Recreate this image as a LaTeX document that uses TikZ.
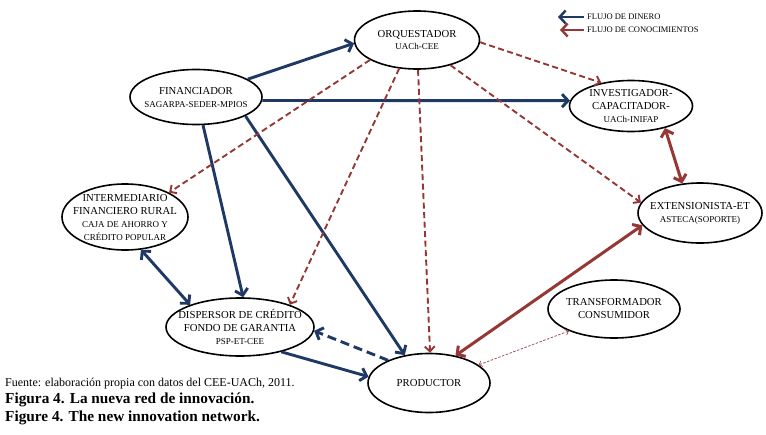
\documentclass[tikz,border=0pt]{standalone}
\usepackage{fontspec}
\setmainfont{Liberation Serif}
\usetikzlibrary{shapes.geometric,arrows.meta}

\definecolor{dinero}{HTML}{1F3864}
\definecolor{saber}{HTML}{953735}
\definecolor{sabertenue}{HTML}{A0525A}

\newcommand{\linea}[1]{{\fontsize{9}{11}\selectfont #1}}

\begin{document}
\begin{tikzpicture}[x=1pt,y=-1pt,
		actor/.style={ellipse,draw,line width=1.6pt,align=center,inner xsep=-25pt,inner ysep=-12pt,font=\fontsize{10.7}{13}\selectfont},
		money/.style={draw=dinero,line width=2.9pt,-{Straight Barb[length=6pt,width=13pt]}},
		moneyback/.style={money,dash pattern=on 9pt off 5pt},
		moneyboth/.style={money,{Straight Barb[length=6pt,width=13pt]}-{Straight Barb[length=6pt,width=13pt]}},
		know/.style={draw=saber,line width=1.9pt,dash pattern=on 6pt off 3.5pt,-{Straight Barb[length=5pt,width=10pt]}},
		knowsolid/.style={draw=saber,line width=3pt,-{Straight Barb[length=6pt,width=13pt]}},
		knowboth/.style={knowsolid,{Straight Barb[length=6pt,width=13pt]}-{Straight Barb[length=6pt,width=13pt]}},
		knowthin/.style={draw=sabertenue,line width=0.8pt,dash pattern=on 2.5pt off 1.5pt,{Straight Barb[length=3pt,width=6pt]}-{Straight Barb[length=3pt,width=6pt]}},
		tag/.style={font=\fontsize{8.5}{10}\selectfont,anchor=west,inner sep=0pt},
		caption/.style={anchor=base west,inner sep=0pt}
	]
	\useasboundingbox (0,0) rectangle (766,434);

	% actores de la red
	\node[actor,minimum width=125pt,minimum height=58pt] (orq) at (417,40) {ORQUESTADOR\\\linea{UACh-CEE}};
	\node[actor,minimum width=132pt,minimum height=55pt] (fin) at (196,97) {FINANCIADOR\\\linea{SAGARPA-SEDER-MPIOS}};
	\node[actor,minimum width=123pt,minimum height=51pt] (inv) at (631,106) {INVESTIGADOR-\\CAPACITADOR-\\\linea{UACh-INIFAP}};
	\node[actor,minimum width=124pt,minimum height=60pt] (ext) at (700,213) {EXTENSIONISTA-ET\\\linea{ASTECA(SOPORTE)}};
	\node[actor,minimum width=126pt,minimum height=66pt] (int) at (125,217) {INTERMEDIARIO\\FINANCIERO RURAL\\\linea{CAJA DE AHORRO Y}\\\linea{CRÉDITO POPULAR}};
	\node[actor,minimum width=148pt,minimum height=58pt] (dis) at (240,327) {DISPERSOR DE CRÉDITO\\FONDO DE GARANTIA\\\linea{PSP-ET-CEE}};
	\node[actor,minimum width=132pt,minimum height=58pt] (tra) at (614,309) {TRANSFORMADOR\\CONSUMIDOR};
	\node[actor,minimum width=122pt,minimum height=59pt] (pro) at (429,383) {PRODUCTOR};

	% flujo de dinero
	\draw[money] (fin.19) -- (orq.183);
	\draw[money] (fin.-3) -- (inv.175);
	\draw[money] (fin.-76) -- (dis.84);
	\draw[money] (fin.-21) -- (pro.131);
	\draw[moneyboth] (int.-64) -- (dis.156);
	\draw[money] (dis.-31) -- (pro.174);
	\draw[moneyback] (pro.151) -- (dis.-3);

	% flujo de conocimientos
	\draw[know] (orq.203) -- (int.29);
	\draw[know] (orq.238) -- (dis.24);
	\draw[know] (orq.-88) -- (pro.88);
	\draw[know] (orq.-2) -- (inv.142);
	\draw[know] (orq.-37) -- (ext.170);
	\draw[knowboth] (inv.-33) -- (ext.121);
	\draw[knowboth] (ext.192) -- (pro.46);
	\draw[knowthin] (pro.20) -- (tra.206);

	% leyenda
	\node[tag] (ley1) at (587,17) {FLUJO DE DINERO};
	\node[tag] (ley2) at (587,30) {FLUJO DE CONOCIMIENTOS};
	\coordinate (fl1) at (558,17);
	\coordinate (fl2) at (560,30);
	\draw[money,line width=2.4pt] ([xshift=-3pt]ley1.west) -- (fl1);
	\draw[knowsolid,line width=2.4pt] ([xshift=-3pt]ley2.west) -- (fl2);

	% pie de figura
	\node[caption,font=\fontsize{12}{14}\selectfont] (fuente) at (5,386) {Fuente: elaboración propia con datos del CEE-UACh, 2011.};
	\node[caption,font=\bfseries\fontsize{15.3}{18}\selectfont] (figes) at (5,403) {Figura 4. La nueva red de innovación.};
	\node[caption,font=\bfseries\fontsize{15.3}{18}\selectfont] (figen) at (5,421) {Figure 4. The new innovation network.};
\end{tikzpicture}
\end{document}
